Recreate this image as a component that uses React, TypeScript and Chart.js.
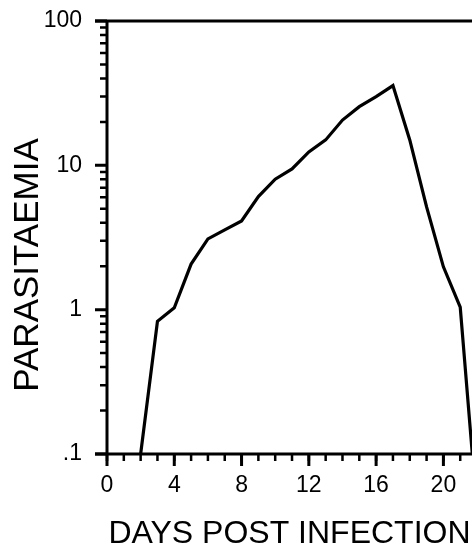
import React, { useEffect, useRef } from "react";
import { Chart, registerables } from "chart.js";

Chart.register(...registerables);

// ---- data ----
const days = [2, 3, 4, 5, 6, 7, 8, 9, 10, 11, 12, 13, 14, 15, 16, 17, 18, 19, 20, 21, 22];
const parasitaemia = [
  0.1, 0.83, 1.03, 2.07, 3.09, 3.57, 4.12, 6.07, 8.01, 9.44, 12.4, 15.0, 20.6, 25.5, 29.9, 35.7,
  15.0, 5.15, 1.98, 1.04, 0.04,
];
const xMajorTicks = [0, 4, 8, 12, 16, 20];
const xMinorTicks = [0, 1, 2, 3, 4, 5, 6, 7, 8, 9, 10, 11, 12, 13, 14, 15, 16, 17, 18, 19, 20, 21];
const yMajorTicks = [0.1, 1, 10, 100];
const yTickLabels = [".1", "1", "10", "100"];
const yMinorMultipliers = [2, 3, 4, 5, 6, 7, 8, 9];
const xTitle = "DAYS POST INFECTION";
const yTitle = "PARASITAEMIA";

const FONT = "'Liberation Sans', Arial, Helvetica, sans-serif";

const axisDecor = {
  id: "axisDecor",
  afterDraw(chart: any) {
    const { ctx, chartArea, scales } = chart;
    const xs = scales.x;
    const ys = scales.y;
    const L = chartArea.left;
    const T = chartArea.top;
    const B = chartArea.bottom;
    const R = chartArea.right;
    ctx.save();
    ctx.strokeStyle = "#000";
    ctx.lineCap = "butt";

    // axis lines
    ctx.lineWidth = 3;
    ctx.beginPath();
    ctx.moveTo(L, T - 1.5);
    ctx.lineTo(L, B + 1.5);
    ctx.moveTo(L - 12, B);
    ctx.lineTo(R + 2, B);
    ctx.moveTo(L - 12, T);
    ctx.lineTo(R + 2, T);
    ctx.stroke();

    // y major ticks
    ctx.lineWidth = 3;
    ctx.beginPath();
    for (const v of yMajorTicks) {
      const p = ys.getPixelForValue(v);
      ctx.moveTo(L - 12, p);
      ctx.lineTo(L, p);
    }
    ctx.stroke();

    // y minor ticks
    ctx.lineWidth = 2.5;
    ctx.beginPath();
    for (let i = 0; i < yMajorTicks.length - 1; i++) {
      for (const m of yMinorMultipliers) {
        const p = ys.getPixelForValue(yMajorTicks[i] * m);
        ctx.moveTo(L - 7, p);
        ctx.lineTo(L, p);
      }
    }
    ctx.stroke();

    // x minor ticks
    ctx.lineWidth = 2.5;
    ctx.beginPath();
    for (const v of xMinorTicks) {
      const p = xs.getPixelForValue(v);
      ctx.moveTo(p, B);
      ctx.lineTo(p, B + 7);
    }
    ctx.stroke();

    // x major ticks
    ctx.lineWidth = 3;
    ctx.beginPath();
    for (const v of xMajorTicks) {
      const p = xs.getPixelForValue(v);
      ctx.moveTo(p, B);
      ctx.lineTo(p, B + 12);
    }
    ctx.stroke();

    // y axis title
    ctx.fillStyle = "#000";
    ctx.font = `35px ${FONT}`;
    ctx.textAlign = "center";
    ctx.textBaseline = "middle";
    ctx.translate(28, 265);
    ctx.rotate(-Math.PI / 2);
    ctx.fillText(yTitle, 0, 0);
    ctx.restore();
  },
};

export default function App() {
  const ref = useRef<HTMLCanvasElement | null>(null);

  useEffect(() => {
    if (!ref.current) return;
    const chart = new Chart(ref.current, {
      type: "line",
      data: {
        datasets: [
          {
            data: days.map((d, i) => ({ x: d, y: parasitaemia[i] })),
            borderColor: "#000",
            borderWidth: 3.2,
            pointRadius: 0,
            tension: 0,
            fill: false,
          },
        ],
      },
      options: {
        animation: false,
        responsive: false,
        maintainAspectRatio: false,
        layout: { padding: { top: 21, left: 0, right: 0, bottom: 0 } },
        plugins: {
          legend: { display: false },
          tooltip: { enabled: false },
          title: { display: false },
        },
        scales: {
          x: {
            type: "linear",
            min: 0,
            max: 21.7,
            grid: { display: false, drawTicks: false },
            border: { display: false },
            afterBuildTicks: (scale: any) => {
              scale.ticks = xMajorTicks.map((v) => ({ value: v }));
            },
            afterFit: (scale: any) => {
              scale.height = 90;
              scale.paddingLeft = 0;
              scale.paddingRight = 0;
            },
            ticks: {
              padding: 18,
              color: "#000",
              font: { family: FONT, size: 23 },
              maxRotation: 0,
              autoSkip: false,
              callback: (v: any) => String(v),
            },
            title: {
              display: true,
              text: xTitle,
              color: "#000",
              font: { family: FONT, size: 32 },
              padding: { top: 0, bottom: -9 },
            },
          },
          y: {
            type: "logarithmic",
            min: 0.1,
            max: 100,
            grid: { display: false, drawTicks: false },
            border: { display: false },
            afterBuildTicks: (scale: any) => {
              scale.ticks = yMajorTicks.map((v) => ({ value: v }));
            },
            afterFit: (scale: any) => {
              scale.width = 107;
              scale.paddingTop = 0;
              scale.paddingBottom = 0;
            },
            ticks: {
              padding: 25,
              color: "#000",
              font: { family: FONT, size: 23 },
              autoSkip: false,
              callback: (_v: any, i: number) => yTickLabels[i],
            },
          },
        },
      },
      plugins: [axisDecor],
    } as any);
    return () => chart.destroy();
  }, []);

  return (
    <div style={{ position: "fixed", left: 0, top: 0, width: 472, height: 544, background: "#fff" }}>
      <canvas ref={ref} width={472} height={544} style={{ display: "block" }} />
    </div>
  );
}
